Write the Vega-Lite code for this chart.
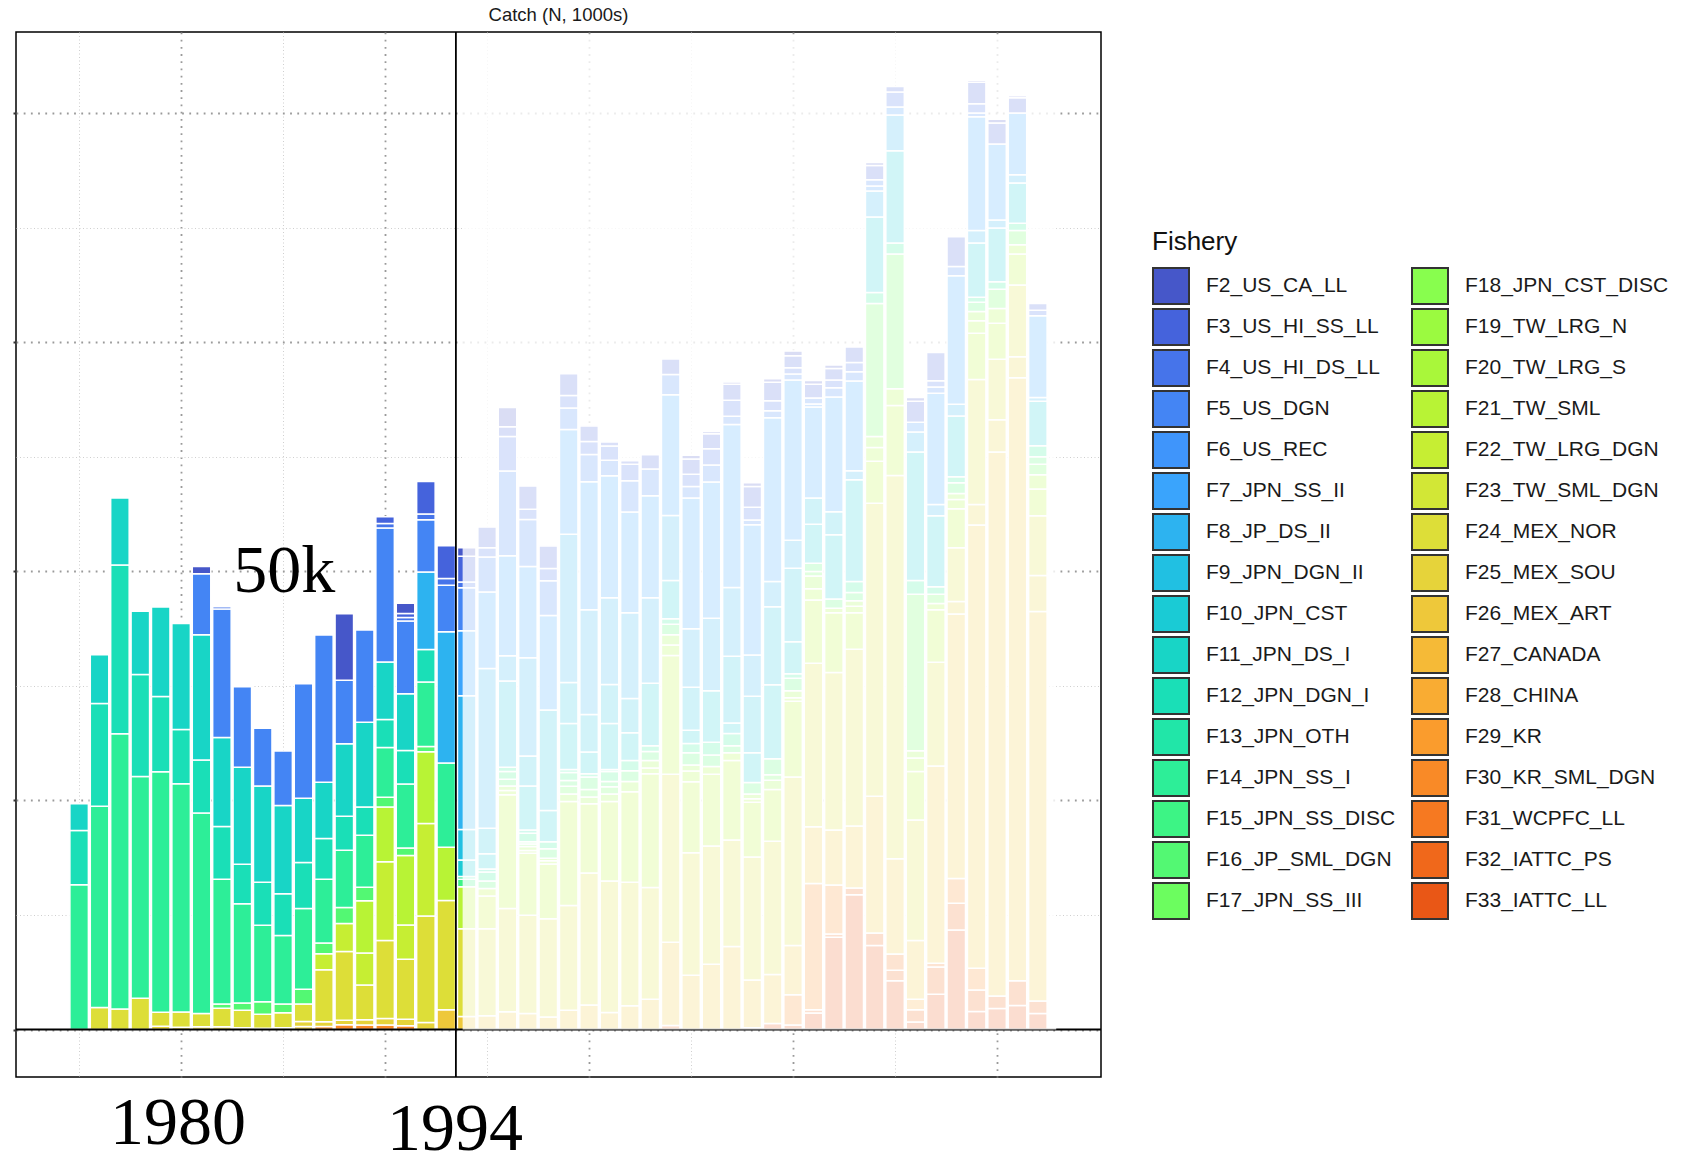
{
  "$schema": "https://vega.github.io/schema/vega-lite/v6.json",
  "width": 1085,
  "height": 1045,
  "autosize": {"type": "none"},
  "padding": {"left": 16, "top": 32, "right": 587, "bottom": 77},
  "background": "white",
  "title": {"text": "Catch (N, 1000s)", "anchor": "middle", "frame": "group", "fontSize": 18.5, "font": "Liberation Sans", "fontWeight": "normal", "color": "#1a1a1a", "baseline": "alphabetic", "offset": 11, "dy": 19},
  "config": {"view": {"stroke": "#000", "strokeWidth": 1.5}},
  "datasets": {
    "fish": [
      {"k": 2, "name": "F2_US_CA_LL"}, {"k": 3, "name": "F3_US_HI_SS_LL"}, {"k": 4, "name": "F4_US_HI_DS_LL"}, {"k": 5, "name": "F5_US_DGN"},
      {"k": 6, "name": "F6_US_REC"}, {"k": 7, "name": "F7_JPN_SS_II"}, {"k": 8, "name": "F8_JP_DS_II"}, {"k": 9, "name": "F9_JPN_DGN_II"},
      {"k": 10, "name": "F10_JPN_CST"}, {"k": 11, "name": "F11_JPN_DS_I"}, {"k": 12, "name": "F12_JPN_DGN_I"}, {"k": 13, "name": "F13_JPN_OTH"},
      {"k": 14, "name": "F14_JPN_SS_I"}, {"k": 15, "name": "F15_JPN_SS_DISC"}, {"k": 16, "name": "F16_JP_SML_DGN"}, {"k": 17, "name": "F17_JPN_SS_III"},
      {"k": 18, "name": "F18_JPN_CST_DISC"}, {"k": 19, "name": "F19_TW_LRG_N"}, {"k": 20, "name": "F20_TW_LRG_S"}, {"k": 21, "name": "F21_TW_SML"},
      {"k": 22, "name": "F22_TW_LRG_DGN"}, {"k": 23, "name": "F23_TW_SML_DGN"}, {"k": 24, "name": "F24_MEX_NOR"}, {"k": 25, "name": "F25_MEX_SOU"},
      {"k": 26, "name": "F26_MEX_ART"}, {"k": 27, "name": "F27_CANADA"}, {"k": 28, "name": "F28_CHINA"}, {"k": 29, "name": "F29_KR"},
      {"k": 30, "name": "F30_KR_SML_DGN"}, {"k": 31, "name": "F31_WCPFC_LL"}, {"k": 32, "name": "F32_IATTC_PS"}, {"k": 33, "name": "F33_IATTC_LL"}
    ],
    "catch": [
      {"y":1975,"k":14,"v":15800},{"y":1975,"k":12,"v":5930},{"y":1975,"k":11,"v":2900},
      {"y":1976,"k":24,"v":2390},{"y":1976,"k":14,"v":21970},{"y":1976,"k":12,"v":11220},{"y":1976,"k":11,"v":5330},
      {"y":1977,"k":24,"v":2230},{"y":1977,"k":14,"v":30050},{"y":1977,"k":12,"v":18430},{"y":1977,"k":11,"v":7320},
      {"y":1978,"k":24,"v":3420},{"y":1978,"k":14,"v":24200},{"y":1978,"k":12,"v":11140},{"y":1978,"k":11,"v":6890},
      {"y":1979,"k":25,"v":350},{"y":1979,"k":24,"v":1520},{"y":1979,"k":14,"v":26270},{"y":1979,"k":12,"v":8200},{"y":1979,"k":11,"v":9790},
      {"y":1980,"k":25,"v":250},{"y":1980,"k":24,"v":1660},{"y":1980,"k":14,"v":24910},{"y":1980,"k":12,"v":5930},{"y":1980,"k":11,"v":11580},
      {"y":1981,"k":25,"v":300},{"y":1981,"k":24,"v":1450},{"y":1981,"k":14,"v":21890},{"y":1981,"k":12,"v":5770},{"y":1981,"k":11,"v":13690},{"y":1981,"k":5,"v":6650},{"y":1981,"k":2,"v":800},
      {"y":1982,"k":25,"v":300},{"y":1982,"k":24,"v":2010},{"y":1982,"k":16,"v":480},{"y":1982,"k":14,"v":13610},{"y":1982,"k":12,"v":5770},{"y":1982,"k":11,"v":9710},{"y":1982,"k":5,"v":14010},{"y":1982,"k":4,"v":250},
      {"y":1983,"k":25,"v":200},{"y":1983,"k":24,"v":1900},{"y":1983,"k":16,"v":800},{"y":1983,"k":14,"v":10830},{"y":1983,"k":12,"v":4300},{"y":1983,"k":11,"v":10590},{"y":1983,"k":5,"v":8800},
      {"y":1984,"k":30,"v":150},{"y":1984,"k":24,"v":1520},{"y":1984,"k":16,"v":1350},{"y":1984,"k":14,"v":8360},{"y":1984,"k":12,"v":4700},{"y":1984,"k":11,"v":10510},{"y":1984,"k":5,"v":6290},
      {"y":1985,"k":25,"v":200},{"y":1985,"k":24,"v":1630},{"y":1985,"k":16,"v":960},{"y":1985,"k":14,"v":7480},{"y":1985,"k":12,"v":4540},{"y":1985,"k":11,"v":9630},{"y":1985,"k":5,"v":5970},
      {"y":1986,"k":26,"v":320},{"y":1986,"k":25,"v":560},{"y":1986,"k":24,"v":1910},{"y":1986,"k":16,"v":1590},{"y":1986,"k":14,"v":8830},{"y":1986,"k":12,"v":5020},{"y":1986,"k":11,"v":7000},{"y":1986,"k":5,"v":12500},
      {"y":1987,"k":30,"v":320},{"y":1987,"k":25,"v":520},{"y":1987,"k":24,"v":5690},{"y":1987,"k":22,"v":1750},{"y":1987,"k":16,"v":1150},{"y":1987,"k":14,"v":6970},{"y":1987,"k":12,"v":4460},{"y":1987,"k":11,"v":6120},{"y":1987,"k":5,"v":16080},
      {"y":1988,"k":30,"v":520},{"y":1988,"k":25,"v":480},{"y":1988,"k":24,"v":7520},{"y":1988,"k":22,"v":3060},{"y":1988,"k":16,"v":1750},{"y":1988,"k":14,"v":6250},{"y":1988,"k":12,"v":3700},{"y":1988,"k":11,"v":7920},{"y":1988,"k":5,"v":6930},{"y":1988,"k":2,"v":7240},
      {"y":1989,"k":30,"v":480},{"y":1989,"k":25,"v":590},{"y":1989,"k":24,"v":3790},{"y":1989,"k":22,"v":3500},{"y":1989,"k":21,"v":5690},{"y":1989,"k":16,"v":1470},{"y":1989,"k":14,"v":5690},{"y":1989,"k":12,"v":3070},{"y":1989,"k":11,"v":9270},{"y":1989,"k":5,"v":10070},
      {"y":1990,"k":30,"v":480},{"y":1990,"k":25,"v":710},{"y":1990,"k":24,"v":8520},{"y":1990,"k":22,"v":8600},{"y":1990,"k":21,"v":5970},{"y":1990,"k":16,"v":1070},{"y":1990,"k":14,"v":5420},{"y":1990,"k":12,"v":3060},{"y":1990,"k":11,"v":6290},{"y":1990,"k":5,"v":14610},{"y":1990,"k":4,"v":510},{"y":1990,"k":3,"v":720},
      {"y":1991,"k":30,"v":400},{"y":1991,"k":25,"v":710},{"y":1991,"k":24,"v":6570},{"y":1991,"k":22,"v":3740},{"y":1991,"k":21,"v":7560},{"y":1991,"k":16,"v":840},{"y":1991,"k":14,"v":6970},{"y":1991,"k":12,"v":3660},{"y":1991,"k":11,"v":6210},{"y":1991,"k":5,"v":7920},{"y":1991,"k":4,"v":390},{"y":1991,"k":3,"v":440},{"y":1991,"k":2,"v":1120},
      {"y":1992,"k":25,"v":760},{"y":1992,"k":24,"v":11620},{"y":1992,"k":22,"v":10110},{"y":1992,"k":21,"v":7840},{"y":1992,"k":16,"v":560},{"y":1992,"k":14,"v":7040},{"y":1992,"k":12,"v":3540},{"y":1992,"k":8,"v":8480},{"y":1992,"k":5,"v":5690},{"y":1992,"k":4,"v":640},{"y":1992,"k":3,"v":3540},
      {"y":1993,"k":26,"v":2150},{"y":1993,"k":24,"v":11940},{"y":1993,"k":21,"v":5810},{"y":1993,"k":14,"v":9190},{"y":1993,"k":8,"v":14330},{"y":1993,"k":5,"v":5060},{"y":1993,"k":4,"v":750},{"y":1993,"k":3,"v":3580},
      {"y":1994,"k":26,"v":1410},{"y":1994,"k":24,"v":9600},{"y":1994,"k":21,"v":4570},{"y":1994,"k":15,"v":830},{"y":1994,"k":14,"v":290},{"y":1994,"k":10,"v":1810},{"y":1994,"k":9,"v":3310},{"y":1994,"k":8,"v":14610},{"y":1994,"k":7,"v":7110},{"y":1994,"k":5,"v":4670},{"y":1994,"k":4,"v":640},{"y":1994,"k":3,"v":2820},{"y":1994,"k":2,"v":930},
      {"y":1995,"k":26,"v":1510},{"y":1995,"k":24,"v":9500},{"y":1995,"k":22,"v":3550},{"y":1995,"k":21,"v":830},{"y":1995,"k":16,"v":830},{"y":1995,"k":14,"v":970},{"y":1995,"k":13,"v":340},{"y":1995,"k":10,"v":1660},{"y":1995,"k":9,"v":2770},{"y":1995,"k":8,"v":17440},{"y":1995,"k":7,"v":8370},{"y":1995,"k":5,"v":3800},{"y":1995,"k":4,"v":1030},{"y":1995,"k":3,"v":2240},
      {"y":1996,"k":26,"v":1950},{"y":1996,"k":24,"v":11250},{"y":1996,"k":21,"v":12420},{"y":1996,"k":20,"v":480},{"y":1996,"k":19,"v":490},{"y":1996,"k":16,"v":730},{"y":1996,"k":15,"v":830},{"y":1996,"k":14,"v":490},{"y":1996,"k":9,"v":9390},{"y":1996,"k":8,"v":2780},{"y":1996,"k":7,"v":10910},{"y":1996,"k":5,"v":9250},{"y":1996,"k":4,"v":3750},{"y":1996,"k":3,"v":1070},{"y":1996,"k":2,"v":2100},
      {"y":1997,"k":26,"v":1750},{"y":1997,"k":24,"v":10720},{"y":1997,"k":21,"v":6770},{"y":1997,"k":20,"v":290},{"y":1997,"k":19,"v":440},{"y":1997,"k":17,"v":290},{"y":1997,"k":16,"v":240},{"y":1997,"k":14,"v":930},{"y":1997,"k":13,"v":340},{"y":1997,"k":10,"v":4820},{"y":1997,"k":9,"v":3260},{"y":1997,"k":8,"v":10720},{"y":1997,"k":7,"v":9980},{"y":1997,"k":5,"v":5110},{"y":1997,"k":4,"v":1120},{"y":1997,"k":3,"v":2540},
      {"y":1998,"k":26,"v":1360},{"y":1998,"k":24,"v":10720},{"y":1998,"k":21,"v":5990},{"y":1998,"k":20,"v":340},{"y":1998,"k":19,"v":290},{"y":1998,"k":16,"v":1020},{"y":1998,"k":14,"v":780},{"y":1998,"k":10,"v":3410},{"y":1998,"k":9,"v":10960},{"y":1998,"k":7,"v":10320},{"y":1998,"k":5,"v":3800},{"y":1998,"k":4,"v":1320},{"y":1998,"k":3,"v":2480},
      {"y":1999,"k":26,"v":2090},{"y":1999,"k":24,"v":11450},{"y":1999,"k":21,"v":11350},{"y":1999,"k":19,"v":820},{"y":1999,"k":17,"v":830},{"y":1999,"k":16,"v":630},{"y":1999,"k":15,"v":880},{"y":1999,"k":14,"v":340},{"y":1999,"k":10,"v":5020},{"y":1999,"k":9,"v":4480},{"y":1999,"k":8,"v":16170},{"y":1999,"k":7,"v":11440},{"y":1999,"k":5,"v":2340},{"y":1999,"k":4,"v":1360},{"y":1999,"k":3,"v":2390},
      {"y":2000,"k":26,"v":2680},{"y":2000,"k":24,"v":14410},{"y":2000,"k":21,"v":7550},{"y":2000,"k":19,"v":730},{"y":2000,"k":17,"v":830},{"y":2000,"k":16,"v":1360},{"y":2000,"k":14,"v":350},{"y":2000,"k":10,"v":2380},{"y":2000,"k":9,"v":4090},{"y":2000,"k":8,"v":11450},{"y":2000,"k":7,"v":13970},{"y":2000,"k":5,"v":2970},{"y":2000,"k":4,"v":1420},{"y":2000,"k":3,"v":1700},
      {"y":2001,"k":26,"v":1850},{"y":2001,"k":24,"v":14370},{"y":2001,"k":21,"v":8670},{"y":2001,"k":19,"v":820},{"y":2001,"k":17,"v":780},{"y":2001,"k":16,"v":590},{"y":2001,"k":15,"v":1070},{"y":2001,"k":14,"v":240},{"y":2001,"k":10,"v":5020},{"y":2001,"k":9,"v":4240},{"y":2001,"k":8,"v":9490},{"y":2001,"k":7,"v":13300},{"y":2001,"k":5,"v":1700},{"y":2001,"k":4,"v":1560},{"y":2001,"k":3,"v":440},
      {"y":2002,"k":26,"v":2580},{"y":2002,"k":24,"v":13490},{"y":2002,"k":21,"v":9890},{"y":2002,"k":19,"v":1120},{"y":2002,"k":16,"v":1170},{"y":2002,"k":14,"v":1120},{"y":2002,"k":10,"v":3020},{"y":2002,"k":9,"v":3750},{"y":2002,"k":8,"v":9350},{"y":2002,"k":7,"v":11000},{"y":2002,"k":5,"v":3410},{"y":2002,"k":4,"v":1800},{"y":2002,"k":3,"v":390},
      {"y":2003,"k":26,"v":3310},{"y":2003,"k":24,"v":12180},{"y":2003,"k":21,"v":12420},{"y":2003,"k":20,"v":630},{"y":2003,"k":19,"v":830},{"y":2003,"k":16,"v":970},{"y":2003,"k":14,"v":630},{"y":2003,"k":10,"v":6820},{"y":2003,"k":8,"v":9350},{"y":2003,"k":7,"v":11110},{"y":2003,"k":5,"v":2920},{"y":2003,"k":3,"v":1560},
      {"y":2004,"k":32,"v":450},{"y":2004,"k":26,"v":9070},{"y":2004,"k":24,"v":18340},{"y":2004,"k":21,"v":12970},{"y":2004,"k":20,"v":1150},{"y":2004,"k":19,"v":1110},{"y":2004,"k":16,"v":1150},{"y":2004,"k":14,"v":600},{"y":2004,"k":10,"v":4160},{"y":2004,"k":8,"v":7110},{"y":2004,"k":7,"v":13180},{"y":2004,"k":5,"v":2200},{"y":2004,"k":3,"v":1710},
      {"y":2005,"k":26,"v":5910},{"y":2005,"k":24,"v":13380},{"y":2005,"k":21,"v":7760},{"y":2005,"k":20,"v":1160},{"y":2005,"k":19,"v":650},{"y":2005,"k":16,"v":1350},{"y":2005,"k":14,"v":1000},{"y":2005,"k":10,"v":1460},{"y":2005,"k":9,"v":4700},{"y":2005,"k":8,"v":6370},{"y":2005,"k":7,"v":14280},{"y":2005,"k":5,"v":1250},{"y":2005,"k":4,"v":1350},{"y":2005,"k":3,"v":1650},{"y":2005,"k":2,"v":410},
      {"y":2006,"k":26,"v":7110},{"y":2006,"k":24,"v":12930},{"y":2006,"k":21,"v":7820},{"y":2006,"k":20,"v":850},{"y":2006,"k":16,"v":1250},{"y":2006,"k":14,"v":1400},{"y":2006,"k":10,"v":5610},{"y":2006,"k":8,"v":7920},{"y":2006,"k":7,"v":14880},{"y":2006,"k":5,"v":1850},{"y":2006,"k":4,"v":1760},{"y":2006,"k":3,"v":1650},{"y":2006,"k":2,"v":250},
      {"y":2007,"k":26,"v":9070},{"y":2007,"k":24,"v":11620},{"y":2007,"k":21,"v":8670},{"y":2007,"k":20,"v":850},{"y":2007,"k":16,"v":750},{"y":2007,"k":14,"v":1350},{"y":2007,"k":10,"v":1160},{"y":2007,"k":9,"v":7260},{"y":2007,"k":8,"v":7520},{"y":2007,"k":7,"v":17780},{"y":2007,"k":5,"v":900},{"y":2007,"k":4,"v":1760},{"y":2007,"k":3,"v":1750},{"y":2007,"k":2,"v":250},
      {"y":2008,"k":33,"v":200},{"y":2008,"k":26,"v":5210},{"y":2008,"k":24,"v":13430},{"y":2008,"k":21,"v":5960},{"y":2008,"k":20,"v":400},{"y":2008,"k":19,"v":500},{"y":2008,"k":16,"v":1250},{"y":2008,"k":10,"v":3260},{"y":2008,"k":9,"v":6160},{"y":2008,"k":8,"v":4510},{"y":2008,"k":7,"v":14230},{"y":2008,"k":5,"v":500},{"y":2008,"k":4,"v":1400},{"y":2008,"k":3,"v":2260},{"y":2008,"k":2,"v":400},
      {"y":2009,"k":33,"v":650},{"y":2009,"k":26,"v":5360},{"y":2009,"k":24,"v":14530},{"y":2009,"k":21,"v":5660},{"y":2009,"k":19,"v":1000},{"y":2009,"k":17,"v":610},{"y":2009,"k":16,"v":1750},{"y":2009,"k":10,"v":8070},{"y":2009,"k":9,"v":8510},{"y":2009,"k":8,"v":2760},{"y":2009,"k":7,"v":17880},{"y":2009,"k":5,"v":750},{"y":2009,"k":4,"v":1110},{"y":2009,"k":3,"v":2000},{"y":2009,"k":2,"v":400},
      {"y":2010,"k":33,"v":500},{"y":2010,"k":30,"v":3300},{"y":2010,"k":26,"v":5370},{"y":2010,"k":24,"v":18390},{"y":2010,"k":21,"v":8260},{"y":2010,"k":20,"v":400},{"y":2010,"k":19,"v":750},{"y":2010,"k":16,"v":1360},{"y":2010,"k":14,"v":500},{"y":2010,"k":10,"v":3500},{"y":2010,"k":9,"v":8020},{"y":2010,"k":8,"v":3060},{"y":2010,"k":7,"v":17480},{"y":2010,"k":5,"v":650},{"y":2010,"k":4,"v":700},{"y":2010,"k":3,"v":1310},{"y":2010,"k":2,"v":500},
      {"y":2011,"k":33,"v":1800},{"y":2011,"k":32,"v":350},{"y":2011,"k":30,"v":13780},{"y":2011,"k":26,"v":6210},{"y":2011,"k":24,"v":17840},{"y":2011,"k":21,"v":6910},{"y":2011,"k":20,"v":1210},{"y":2011,"k":19,"v":1400},{"y":2011,"k":17,"v":500},{"y":2011,"k":16,"v":900},{"y":2011,"k":10,"v":4260},{"y":2011,"k":9,"v":2860},{"y":2011,"k":7,"v":9920},{"y":2011,"k":6,"v":350},{"y":2011,"k":5,"v":650},{"y":2011,"k":3,"v":1500},{"y":2011,"k":2,"v":400},
      {"y":2012,"k":33,"v":10070},{"y":2012,"k":32,"v":350},{"y":2012,"k":30,"v":5360},{"y":2012,"k":26,"v":6010},{"y":2012,"k":24,"v":17190},{"y":2012,"k":21,"v":6510},{"y":2012,"k":20,"v":500},{"y":2012,"k":16,"v":1000},{"y":2012,"k":10,"v":7020},{"y":2012,"k":9,"v":2500},{"y":2012,"k":7,"v":12530},{"y":2012,"k":5,"v":1000},{"y":2012,"k":4,"v":850},{"y":2012,"k":3,"v":1250},{"y":2012,"k":2,"v":400},
      {"y":2013,"k":33,"v":14700},{"y":2013,"k":32,"v":750},{"y":2013,"k":26,"v":6750},{"y":2013,"k":24,"v":19300},{"y":2013,"k":21,"v":4000},{"y":2013,"k":20,"v":700},{"y":2013,"k":19,"v":600},{"y":2013,"k":16,"v":900},{"y":2013,"k":14,"v":1200},{"y":2013,"k":10,"v":11100},{"y":2013,"k":8,"v":1000},{"y":2013,"k":7,"v":9800},{"y":2013,"k":5,"v":1000},{"y":2013,"k":4,"v":1000},{"y":2013,"k":3,"v":1700},
      {"y":2014,"k":33,"v":9180},{"y":2014,"k":32,"v":1350},{"y":2014,"k":26,"v":14920},{"y":2014,"k":24,"v":31990},{"y":2014,"k":21,"v":4590},{"y":2014,"k":20,"v":1490},{"y":2014,"k":19,"v":1210},{"y":2014,"k":17,"v":14520},{"y":2014,"k":14,"v":1210},{"y":2014,"k":10,"v":8240},{"y":2014,"k":8,"v":2830},{"y":2014,"k":6,"v":540},{"y":2014,"k":5,"v":680},{"y":2014,"k":3,"v":1550},{"y":2014,"k":2,"v":340},
      {"y":2015,"k":33,"v":5330},{"y":2015,"k":32,"v":1150},{"y":2015,"k":31,"v":1760},{"y":2015,"k":26,"v":10390},{"y":2015,"k":24,"v":41850},{"y":2015,"k":21,"v":7630},{"y":2015,"k":20,"v":1820},{"y":2015,"k":17,"v":14720},{"y":2015,"k":14,"v":1210},{"y":2015,"k":10,"v":10060},{"y":2015,"k":8,"v":3910},{"y":2015,"k":6,"v":880},{"y":2015,"k":4,"v":1620},{"y":2015,"k":3,"v":610},
      {"y":2016,"k":33,"v":810},{"y":2016,"k":32,"v":1350},{"y":2016,"k":28,"v":1150},{"y":2016,"k":26,"v":6410},{"y":2016,"k":24,"v":13160},{"y":2016,"k":21,"v":5270},{"y":2016,"k":20,"v":1480},{"y":2016,"k":19,"v":810},{"y":2016,"k":17,"v":17080},{"y":2016,"k":14,"v":1490},{"y":2016,"k":10,"v":14040},{"y":2016,"k":8,"v":2160},{"y":2016,"k":6,"v":1080},{"y":2016,"k":3,"v":2290},{"y":2016,"k":2,"v":410},
      {"y":2017,"k":33,"v":3850},{"y":2017,"k":32,"v":2970},{"y":2017,"k":31,"v":400},{"y":2017,"k":26,"v":21540},{"y":2017,"k":24,"v":11340},{"y":2017,"k":21,"v":5730},{"y":2017,"k":20,"v":680},{"y":2017,"k":17,"v":1010},{"y":2017,"k":14,"v":810},{"y":2017,"k":10,"v":7760},{"y":2017,"k":8,"v":1220},{"y":2017,"k":7,"v":12150},{"y":2017,"k":5,"v":670},{"y":2017,"k":4,"v":680},{"y":2017,"k":3,"v":3100},
      {"y":2018,"k":33,"v":10870},{"y":2018,"k":32,"v":2900},{"y":2018,"k":30,"v":2700},{"y":2018,"k":26,"v":28890},{"y":2018,"k":25,"v":1350},{"y":2018,"k":24,"v":5870},{"y":2018,"k":21,"v":4260},{"y":2018,"k":20,"v":1010},{"y":2018,"k":19,"v":670},{"y":2018,"k":16,"v":1150},{"y":2018,"k":14,"v":680},{"y":2018,"k":10,"v":6610},{"y":2018,"k":8,"v":1280},{"y":2018,"k":7,"v":14040},{"y":2018,"k":5,"v":1020},{"y":2018,"k":3,"v":3240},
      {"y":2019,"k":33,"v":1960},{"y":2019,"k":32,"v":2360},{"y":2019,"k":30,"v":2360},{"y":2019,"k":26,"v":48400},{"y":2019,"k":25,"v":2230},{"y":2019,"k":24,"v":13630},{"y":2019,"k":21,"v":5070},{"y":2019,"k":20,"v":1350},{"y":2019,"k":19,"v":1010},{"y":2019,"k":16,"v":1010},{"y":2019,"k":14,"v":540},{"y":2019,"k":10,"v":5940},{"y":2019,"k":8,"v":1350},{"y":2019,"k":7,"v":12420},{"y":2019,"k":5,"v":410},{"y":2019,"k":4,"v":1010},{"y":2019,"k":3,"v":2360},{"y":2019,"k":2,"v":200},
      {"y":2020,"k":33,"v":2300},{"y":2020,"k":32,"v":1350},{"y":2020,"k":26,"v":59400},{"y":2020,"k":25,"v":3510},{"y":2020,"k":24,"v":6610},{"y":2020,"k":21,"v":3920},{"y":2020,"k":20,"v":1620},{"y":2020,"k":17,"v":2090},{"y":2020,"k":14,"v":810},{"y":2020,"k":10,"v":5870},{"y":2020,"k":8,"v":880},{"y":2020,"k":7,"v":8300},{"y":2020,"k":3,"v":2300},{"y":2020,"k":2,"v":400},
      {"y":2021,"k":33,"v":2630},{"y":2021,"k":32,"v":2700},{"y":2021,"k":26,"v":65820},{"y":2021,"k":25,"v":2290},{"y":2021,"k":24,"v":7830},{"y":2021,"k":21,"v":3380},{"y":2021,"k":20,"v":1010},{"y":2021,"k":17,"v":1550},{"y":2021,"k":14,"v":810},{"y":2021,"k":10,"v":4390},{"y":2021,"k":8,"v":880},{"y":2021,"k":7,"v":6750},{"y":2021,"k":3,"v":1680},{"y":2021,"k":2,"v":210},
      {"y":2022,"k":33,"v":1760},{"y":2022,"k":32,"v":1350},{"y":2022,"k":26,"v":42520},{"y":2022,"k":25,"v":3920},{"y":2022,"k":24,"v":6540},{"y":2022,"k":21,"v":2900},{"y":2022,"k":20,"v":1560},{"y":2022,"k":17,"v":1150},{"y":2022,"k":16,"v":810},{"y":2022,"k":14,"v":1210},{"y":2022,"k":10,"v":4860},{"y":2022,"k":8,"v":410},{"y":2022,"k":7,"v":8910},{"y":2022,"k":4,"v":600},{"y":2022,"k":3,"v":750}
    ]
  },
  "layer": [
    {
      "data": {"name": "catch"},
      "transform": [{"lookup": "k", "from": {"data": {"name": "fish"}, "key": "k", "fields": ["name"]}}],
      "mark": {"type": "bar", "width": 18.5, "stroke": "white", "strokeWidth": 1.5},
      "encoding": {
        "x": {"field": "y", "type": "quantitative", "scale": {"domain": [1972.15, 2024.85], "nice": false, "zero": false},
          "axis": {"values": [1975, 1980, 1985, 1990, 1995, 2000, 2005, 2010, 2015, 2020], "labels": false, "ticks": false, "domain": false, "title": null, "grid": true,
            "gridColor": {"condition": {"test": "datum.value % 10 === 0", "value": "#9a9a9a"}, "value": "#cfcfcf"},
            "gridDash": {"condition": {"test": "datum.value % 10 === 0", "value": [1.8, 5.4]}, "value": [1, 2.5]},
            "gridWidth": {"condition": {"test": "datum.value % 10 === 0", "value": 1.8}, "value": 1}}},
        "y": {"field": "v", "type": "quantitative", "stack": "zero", "scale": {"domain": [-5185, 108885], "nice": false, "zero": false},
          "axis": {"values": [0, 12500, 25000, 37500, 50000, 62500, 75000, 87500, 100000], "labels": false, "domain": false, "title": null, "grid": true,
            "tickSize": 3, "tickWidth": 2,
            "tickColor": {"condition": {"test": "datum.value % 25000 === 0", "value": "#333333"}, "value": "transparent"},
            "gridColor": {"condition": {"test": "datum.value % 25000 === 0", "value": "#9a9a9a"}, "value": "#cfcfcf"},
            "gridDash": {"condition": {"test": "datum.value % 25000 === 0", "value": [1.8, 5.4]}, "value": [1, 2.5]},
            "gridWidth": {"condition": {"test": "datum.value % 25000 === 0", "value": 1.8}, "value": 1}}},
        "color": {"field": "name", "type": "nominal",
          "scale": {
            "domain": ["F2_US_CA_LL","F3_US_HI_SS_LL","F4_US_HI_DS_LL","F5_US_DGN","F6_US_REC","F7_JPN_SS_II","F8_JP_DS_II","F9_JPN_DGN_II","F10_JPN_CST","F11_JPN_DS_I","F12_JPN_DGN_I","F13_JPN_OTH","F14_JPN_SS_I","F15_JPN_SS_DISC","F16_JP_SML_DGN","F17_JPN_SS_III","F18_JPN_CST_DISC","F19_TW_LRG_N","F20_TW_LRG_S","F21_TW_SML","F22_TW_LRG_DGN","F23_TW_SML_DGN","F24_MEX_NOR","F25_MEX_SOU","F26_MEX_ART","F27_CANADA","F28_CHINA","F29_KR","F30_KR_SML_DGN","F31_WCPFC_LL","F32_IATTC_PS","F33_IATTC_LL"],
            "range": ["#4657C9","#4563DC","#4674EA","#4485F4","#3F95FB","#3AA4FC","#2DB3F0","#21C0E2","#1ACBD5","#18D5C6","#1ADFB7","#21E6A8","#2DEE98","#3DF485","#53F873","#6CFD5F","#88FE4E","#9BFA40","#A9F73A","#B8F335","#C6EE33","#D2E736","#DDDE38","#E6D33A","#EEC83A","#F5BA37","#F9AC33","#FA9C2D","#F98A27","#F67921","#F0681B","#E95716"]
          },
          "legend": {"title": "Fishery", "orient": "none", "legendX": 1136, "legendY": 197, "columns": 2, "padding": 0, "symbolLimit": 0,
            "symbolType": "square", "symbolSize": 1296, "symbolStrokeColor": "#333333", "symbolStrokeWidth": 2, "symbolOpacity": 1,
            "labelFont": "Liberation Sans", "labelFontSize": 21, "labelColor": "#1a1a1a", "labelOffset": 16, "labelLimit": 400,
            "titleFont": "Liberation Sans", "titleFontSize": 26, "titleFontWeight": "normal", "titleColor": "#111111", "titlePadding": 12,
            "rowPadding": -6, "columnPadding": 12,
            "encode": {"symbols": {"update": {"stroke": {"value": "#333333"}, "strokeWidth": {"value": 2}}}}}
        },
        "order": {"field": "k", "type": "quantitative", "sort": "descending"}
      }
    },
    {
      "data": {"values": [{}]},
      "mark": {"type": "rule", "color": "#000000", "strokeWidth": 2},
      "encoding": {"y": {"datum": 0, "type": "quantitative", "scale": {"domain": [-5185, 108885], "nice": false, "zero": false}}}
    },
    {
      "data": {"values": [{}]},
      "mark": {"type": "rule", "color": "#000000", "strokeWidth": 1.8},
      "encoding": {"x": {"datum": 1993.47, "type": "quantitative", "scale": {"domain": [1972.15, 2024.85], "nice": false, "zero": false}}}
    },
    {
      "data": {"values": [{}]},
      "mark": {"type": "rect", "fill": "#ffffff", "opacity": 0.8},
      "encoding": {
        "x": {"datum": 1993.8, "type": "quantitative", "scale": {"domain": [1972.15, 2024.85], "nice": false, "zero": false}},
        "x2": {"datum": 2022.9},
        "y": {"datum": 0, "type": "quantitative", "scale": {"domain": [-5185, 108885], "nice": false, "zero": false}},
        "y2": {"datum": 108500}
      }
    },
    {
      "data": {"values": [{}]},
      "mark": {"type": "text", "font": "Liberation Serif", "fontSize": 68, "align": "center", "baseline": "alphabetic", "color": "#000000"},
      "encoding": {
        "x": {"datum": 1985.05, "type": "quantitative", "scale": {"domain": [1972.15, 2024.85], "nice": false, "zero": false}},
        "y": {"datum": 47760, "type": "quantitative", "scale": {"domain": [-5185, 108885], "nice": false, "zero": false}},
        "text": {"value": "50k"}
      }
    },
    {
      "data": {"values": [{}]},
      "mark": {"type": "text", "font": "Liberation Serif", "fontSize": 68, "align": "center", "baseline": "alphabetic", "color": "#000000"},
      "encoding": {
        "x": {"datum": 1979.85, "type": "quantitative", "scale": {"domain": [1972.15, 2024.85], "nice": false, "zero": false}},
        "y": {"datum": -12550, "type": "quantitative", "scale": {"domain": [-5185, 108885], "nice": false, "zero": false}},
        "text": {"value": "1980"}
      }
    },
    {
      "data": {"values": [{}]},
      "mark": {"type": "text", "font": "Liberation Serif", "fontSize": 68, "align": "center", "baseline": "alphabetic", "color": "#000000"},
      "encoding": {
        "x": {"datum": 1993.42, "type": "quantitative", "scale": {"domain": [1972.15, 2024.85], "nice": false, "zero": false}},
        "y": {"datum": -13100, "type": "quantitative", "scale": {"domain": [-5185, 108885], "nice": false, "zero": false}},
        "text": {"value": "1994"}
      }
    }
  ]
}
